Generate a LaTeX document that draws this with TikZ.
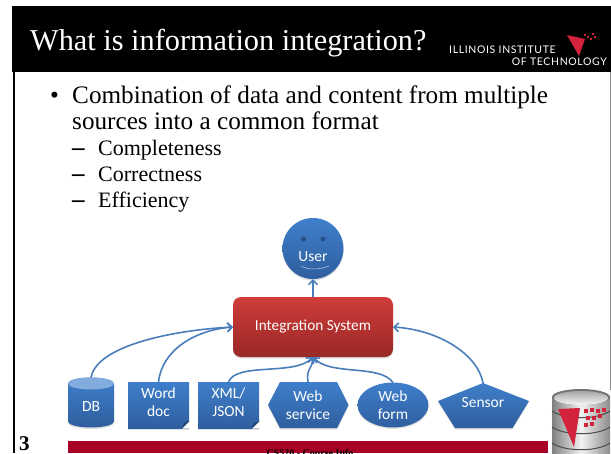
\documentclass[tikz,border=0pt]{standalone}
\usepackage{fontspec}
\setmainfont{Liberation Serif}
\newfontfamily\calibrifont{Carlito}
\newfontfamily\logofont[LetterSpace=6]{Lato}
\usetikzlibrary{shapes.geometric,shadows,arrows.meta}
\definecolor{bluetop}{HTML}{3F7FCB}
\definecolor{bluebot}{HTML}{2F5E9E}
\definecolor{redtop}{HTML}{D03C39}
\definecolor{redbot}{HTML}{982927}
\definecolor{arrowblue}{HTML}{4A7EBB}
\definecolor{footred}{HTML}{A90025}
\definecolor{logored}{HTML}{D2223C}
\tikzset{
    shadowed/.style={drop shadow={opacity=0.25,shadow xshift=0pt,shadow yshift=-1.5pt}},
    bluefill/.style={top color=bluetop,bottom color=bluebot,draw=none,shadowed},
    source/.style={bluefill,text=white,font=\calibrifont\fontsize{15.5}{18}\selectfont,align=center,inner sep=0pt,outer sep=0pt},
    plain/.style={text=white,font=\calibrifont\fontsize{15.5}{18}\selectfont,align=center,inner sep=0pt,outer sep=0pt},
    feed/.style={draw=arrowblue,line width=1.6pt,-{Straight Barb[length=4.5pt,width=9pt]}},
    body/.style={anchor=base west,inner sep=0pt,font=\fontsize{22}{24}\selectfont},
    bodybig/.style={anchor=base west,inner sep=0pt,font=\fontsize{25.2}{28}\selectfont}
}
\newcommand{\itemdash}{\makebox[26pt][l]{\fontsize{25}{24}\selectfont\bfseries –}}
\begin{document}
\begin{tikzpicture}[x=1pt,y=-1pt]
    \useasboundingbox (0,0) rectangle (611,453);
    \fill[white] (0,0) rectangle (611,453);
    % frame
    \fill[black] (12,6) rectangle (611,72);
    \fill[black] (13,72) rectangle (15,453);
    \fill[black!45] (609.5,72) rectangle (611,390);
    \fill[footred] (68,441) rectangle (548,453);
    \node (title) at (30,50) [anchor=base west,inner sep=0pt,text=white,font=\fontsize{30.3}{34}\selectfont] {What is information integration?};
    \node (logoa) at (449,53) [anchor=base west,inner sep=0pt,text=white,font=\logofont\fontsize{10.5}{12}\selectfont] {ILLINOIS INSTITUTE};
    \node (logob) at (607,65) [anchor=base east,inner sep=0pt,text=white,font=\logofont\fontsize{10.5}{12}\selectfont] {OF TECHNOLOGY};
    \fill[logored] (567,35) -- (585,39) -- (579,56) -- cycle;
    \foreach \a/\b in {584/34,587/36,590/38,592/33,594/36}
        \fill[logored] (\a,\b) rectangle +(2,2);
    % text
    \node (bullet) at (50,103) [bodybig] {•};
    \node (line1) at (72,103) [bodybig] {Combination of data and content from multiple};
    \node (line2) at (72,129) [bodybig] {sources into a common format};
    \node (item1) at (72,155) [body] {\itemdash Completeness};
    \node (item2) at (72,181) [body] {\itemdash Correctness};
    \node (item3) at (72,207) [body] {\itemdash Efficiency};
    % user and system
    \node (user) at (313,248.5) [circle,bluefill,inner sep=0pt,outer sep=0pt,minimum size=61pt] {};
    \node (usertext) at (313,257) [plain] {User};
    \fill[bluebot!85!black] (303.5,239) circle (2.5);
    \fill[bluebot!85!black] (323,239) circle (2.5);
    \draw[white!65!bluetop,line width=0.5pt] (301,266) .. controls (308,270) and (319,270) .. (329,266);
    \node (system) at (313,327) [rectangle,rounded corners=8pt,top color=redtop,bottom color=redbot,shadowed,minimum width=160pt,minimum height=60pt,text=white,inner sep=0pt,outer sep=0pt,font=\calibrifont\fontsize{15.3}{18}\selectfont] {Integration System};
    % sources
    \path[bluefill] (68,383.5) arc (180:360:23 and 6) -- (114,421.5) arc (0:180:23 and 6) -- cycle;
    \fill[white!35!bluetop] (91,383.5) ellipse (23 and 6);
    \node (db) at (91,407) [plain,minimum width=46pt,minimum height=59pt] {DB};
    \node (word) at (158.5,405) [rectangle,bluefill,inner sep=0pt,outer sep=0pt,minimum width=61pt,minimum height=46pt] {};
    \node (wordtext) at (158.5,402) [plain] {Word\\doc};
    \fill[white] (189.5,428.5) -- (189.5,421) -- (182,428.5) -- cycle;
    \fill[bluebot!70!black] (189.5,421) -- (184,423) -- (182,428.5) -- cycle;
    \node (xml) at (228.5,405) [rectangle,bluefill,inner sep=0pt,outer sep=0pt,minimum width=61pt,minimum height=46pt] {};
    \node (xmltext) at (228.5,402) [plain] {XML/\\JSON};
    \fill[white] (259.5,428.5) -- (259.5,421) -- (252,428.5) -- cycle;
    \fill[bluebot!70!black] (259.5,421) -- (254,423) -- (252,428.5) -- cycle;
    \path[bluefill] (268,405) -- (280,382) -- (337,382) -- (348.5,405) -- (337,428) -- (280,428) -- cycle;
    \node (service) at (308,405) [plain,minimum width=80pt,minimum height=46pt] {Web\\service};
    \node (form) at (393,405) [ellipse,source,minimum width=71pt,minimum height=45pt] {Web\\form};
    \path[bluefill] (483,383) -- (529,401) -- (512.5,428) -- (455,428) -- (438,401) -- cycle;
    \node (sensor) at (483,405.5) [plain,minimum width=90pt,minimum height=45pt] {\raisebox{6pt}{Sensor}};
    % connectors
    \draw[feed] (system) -- (user);
    \draw[feed] (db.north) .. controls (97,345) and (175,330) .. (system.west);
    \draw[feed] (word.north) .. controls (162,350) and (195,330) .. (system.west);
    \draw[feed] (xml.north) .. controls (236,362) and (295,376) .. (system.south);
    \draw[feed] (service.north) .. controls (306,368) and (312,370) .. (system.south);
    \draw[feed] (form.north) .. controls (380,364) and (330,376) .. (system.south);
    \draw[feed] (sensor.north) .. controls (478,355) and (440,330) .. (system.east);
    % page number and footer
    \node (page) at (19,450) [anchor=base west,inner sep=0pt,font=\bfseries\fontsize{21}{24}\selectfont] {3};
    \node (foot) at (310,456) [anchor=base,inner sep=0pt,font=\bfseries\fontsize{10}{12}\selectfont] {CS520 - Course Info};
    % database logo
    \path[left color=black!50,right color=black!45,middle color=black!5] (552,397) -- (552,453) -- (610,453) -- (610,397) -- cycle;
    \fill[black!55] (552,397) arc (180:0:29 and 8) arc (0:-180:29 and 8);
    \path[top color=black!35,bottom color=black!3] (554,398) arc (180:0:27 and 7) arc (0:-180:27 and 7);
    \draw[black!70,line width=1pt] (552,411) .. controls (565,420) and (597,420) .. (610,411);
    \draw[black!70,line width=1pt] (552,427) .. controls (565,436) and (597,436) .. (610,427);
    \draw[black!70,line width=1pt] (552,443) .. controls (565,452) and (597,452) .. (610,443);
    \fill[logored] (558,409) -- (580,408) -- (574,447) -- cycle;
    \foreach \a/\b in {584/409,590/408,596/409,602/408,586/416,592/416,598/414,584/423,590/422}
        \fill[logored] (\a,\b) rectangle +(4,3.5);
\end{tikzpicture}
\end{document}
